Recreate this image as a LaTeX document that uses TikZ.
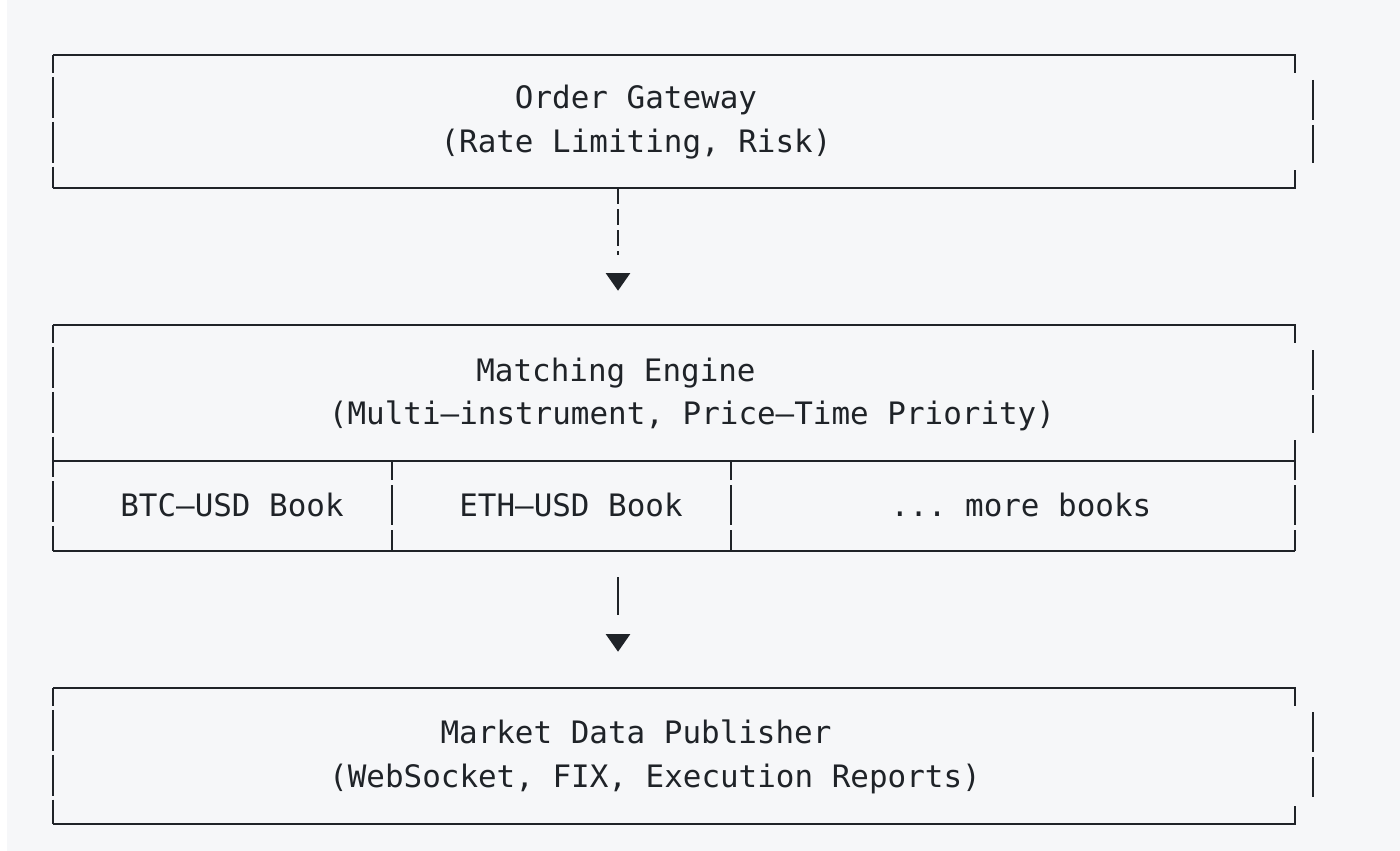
\documentclass[tikz,border=0pt]{standalone}
\usepackage{fontspec}
\setmonofont{DejaVu Sans Mono}
\usetikzlibrary{positioning,shapes.geometric}
\definecolor{pagebg}{HTML}{F6F7F9}
\definecolor{ink}{HTML}{1F2328}

\begin{document}
\begin{tikzpicture}[x=0.02cm,y=-0.02cm,
    ink,
    line width=1.3pt,
    txt/.style = {
      inner sep = 0pt,
      anchor = base,
      font = \ttfamily\fontsize{17.6}{22}\selectfont
    },
    bar/.style = {
      dash pattern = on 23.2pt off 2.3pt,
      dash phase = 13pt
    },
    tip/.style = {
      fill = ink,
      isosceles triangle,
      shape border rotate = -90,
      isosceles triangle apex angle = 70,
      inner sep = 0pt,
      minimum height = 10pt,
      minimum width = 10pt
    }
  ]
  \useasboundingbox (0,0) rectangle (1400,851);
  \fill[white] (0,0) rectangle (7,851);
  \fill[pagebg] (7,0) rectangle (1400,851);

  % order gateway
  \draw (53,55) -- (1295,55) -- (1295,73);
  \draw (53,188) -- (1295,188) -- (1295,170);
  \draw[bar] (53,55) -- (53,188);
  \draw (1313,80) -- (1313,120) (1313,125) -- (1313,163);
  \node[txt] (gw1) at (636,109) {Order Gateway};
  \node[txt] (gw2) at (636,153) {(Rate Limiting, Risk)};

  \coordinate (gwout) at (618,188);
  \node[tip, anchor=north] (t1) at (618,272) {};
  \draw[dash pattern=on 9pt off 3pt] (gwout) -- (618,255);

  % matching engine
  \draw (53,325) -- (1295,325) -- (1295,343);
  \draw (53,461) -- (1295,461);
  \draw (53,551) -- (1295,551);
  \draw[bar] (53,325) -- (53,551);
  \draw (1295,440) -- (1295,480) (1295,485) -- (1295,525) (1295,530) -- (1295,551);
  \draw (1313,350) -- (1313,390) (1313,395) -- (1313,433);
  \foreach \x in {392,731}
    \draw (\x,461) -- (\x,480) (\x,485) -- (\x,525) (\x,530) -- (\x,551);
  \node[txt] (me1) at (616,381) {Matching Engine};
  \node[txt] (me2) at (692,424) {(Multi–instrument, Price–Time Priority)};
  \node[txt] (btc) at (232,516) {BTC–USD Book};
  \node[txt] (eth) at (571,516) {ETH–USD Book};
  \node[txt] (more) at (1021,516) {... more books};

  \coordinate (meout) at (618,577);
  \node[tip, anchor=north] (t2) at (618,633) {};
  \draw (meout) -- (618,615);

  % market data
  \draw (53,688) -- (1295,688) -- (1295,706);
  \draw (53,824) -- (1295,824) -- (1295,806);
  \draw[bar] (53,688) -- (53,824);
  \draw (1313,712) -- (1313,752) (1313,757) -- (1313,797);
  \node[txt] (md1) at (636,743) {Market Data Publisher};
  \node[txt] (md2) at (655,787) {(WebSocket, FIX, Execution Reports)};
\end{tikzpicture}
\end{document}
